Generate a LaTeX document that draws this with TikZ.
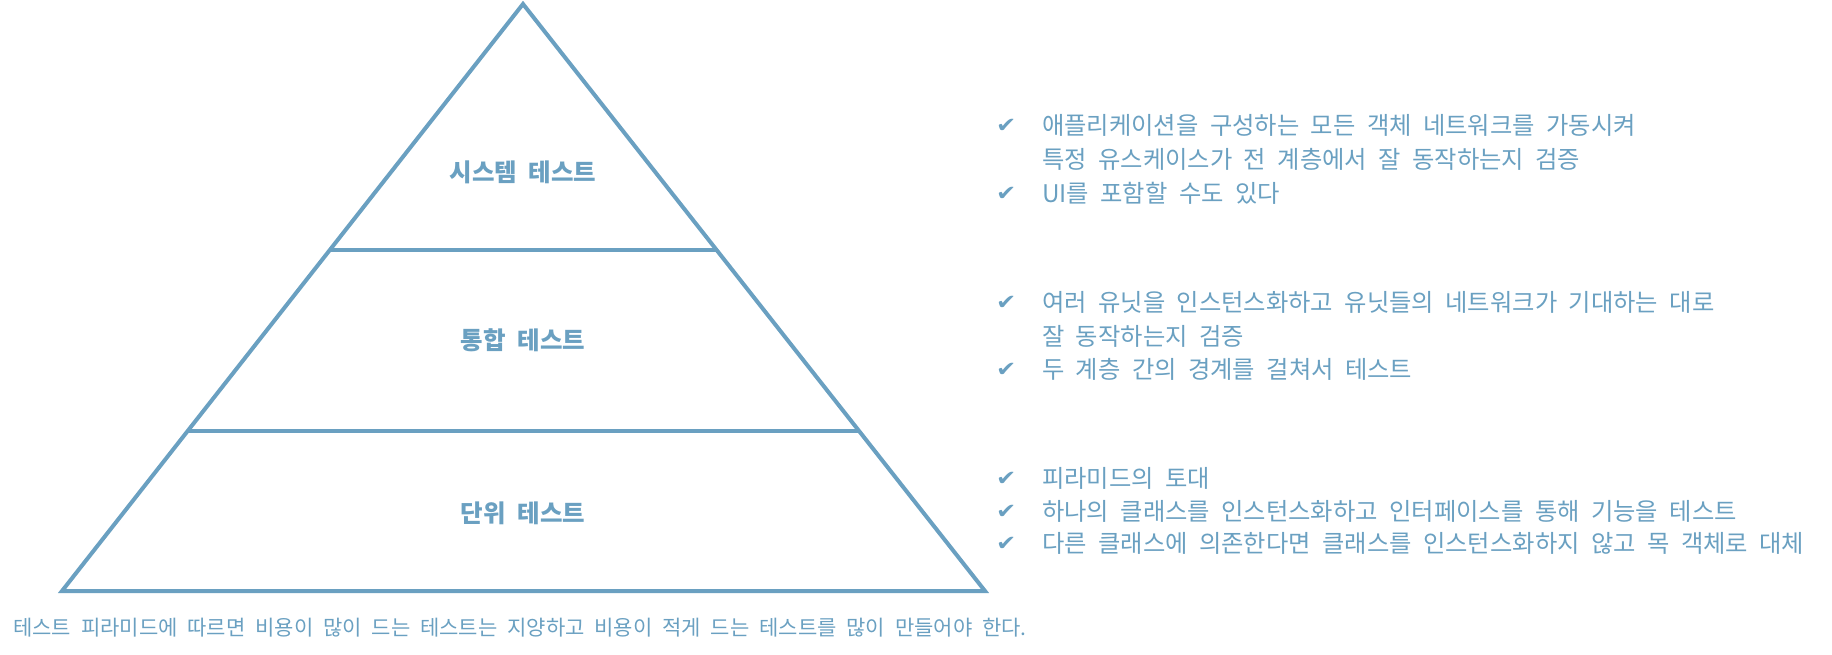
\documentclass[tikz,border=0pt]{standalone}
\usepackage{fontspec}
\usetikzlibrary{calc}
\newfontfamily\kr[WordSpace=1.75]{Noto Sans CJK KR}
\newfontfamily\krlab[WordSpace=1.8]{Noto Sans CJK KR}
\newfontfamily\krcap[WordSpace=2.1]{Noto Sans CJK KR}
\newfontfamily\sym{DejaVu Sans}
\definecolor{pyr}{RGB}{106,160,193}
\newcommand{\chk}{\scalebox{1.15}[1]{✔}}
\tikzset{
  edge/.style={draw=pyr, line width=4pt},
  lvl/.style={font=\krlab\bfseries\fontsize{24.5pt}{28pt}\selectfont, text=pyr, inner sep=0pt},
  item/.style={font=\kr\fontsize{24.3pt}{28pt}\selectfont, text=pyr, inner sep=0pt, anchor=base west},
  tick/.style={font=\sym\fontsize{21pt}{24pt}\selectfont, text=pyr, inner sep=0pt, anchor=base west},
  captext/.style={font=\krcap\fontsize{21pt}{26pt}\selectfont, text=pyr, inner sep=0pt}
}
\begin{document}
\begin{tikzpicture}[x=1pt,y=-1pt]
\useasboundingbox (0,0) rectangle (1832,654);
\coordinate (apex) at (523,4);
\coordinate (bl) at (62,591);
\coordinate (br) at (985,591);
\draw[edge] (apex) -- (bl) -- (br) -- cycle;
\coordinate (l1) at ($(apex)!0.419!(bl)$);
\coordinate (r1) at ($(apex)!0.419!(br)$);
\coordinate (l2) at ($(apex)!0.727!(bl)$);
\coordinate (r2) at ($(apex)!0.727!(br)$);
\draw[edge] (l1) -- (r1);
\draw[edge] (l2) -- (r2);
\node[lvl] (sys) at (523,172) {시스템 테스트};
\node[lvl] (int) at (523,340) {통합 테스트};
\node[lvl] (unit) at (523,513) {단위 테스트};
% group 1
\node[tick] (c11) at (996,132) {\chk};
\node[item] (t11) at (1042,134) {애플리케이션을 구성하는 모든 객체 네트워크를 가동시켜};
\node[item] (t12) at (1042,168) {특정 유스케이스가 전 계층에서 잘 동작하는지 검증};
\node[tick] (c13) at (996,200) {\chk};
\node[item] (t13) at (1042,202) {UI를 포함할 수도 있다};
% group 2
\node[tick] (c21) at (996,309) {\chk};
\node[item] (t21) at (1042,311) {여러 유닛을 인스턴스화하고 유닛들의 네트워크가 기대하는 대로};
\node[item] (t22) at (1042,345) {잘 동작하는지 검증};
\node[tick] (c23) at (996,376) {\chk};
\node[item] (t23) at (1042,378) {두 계층 간의 경계를 걸쳐서 테스트};
% group 3
\node[tick] (c31) at (996,485) {\chk};
\node[item] (t31) at (1042,487) {피라미드의 토대};
\node[tick] (c32) at (996,518) {\chk};
\node[item] (t32) at (1042,520) {하나의 클래스를 인스턴스화하고 인터페이스를 통해 기능을 테스트};
\node[tick] (c33) at (996,550) {\chk};
\node[item] (t33) at (1042,552) {다른 클래스에 의존한다면 클래스를 인스턴스화하지 않고 목 객체로 대체};
% caption
\node[captext] (caption) at (520,628) {테스트 피라미드에 따르면 비용이 많이 드는 테스트는 지양하고 비용이 적게 드는 테스트를 많이 만들어야 한다.};
\end{tikzpicture}
\end{document}
